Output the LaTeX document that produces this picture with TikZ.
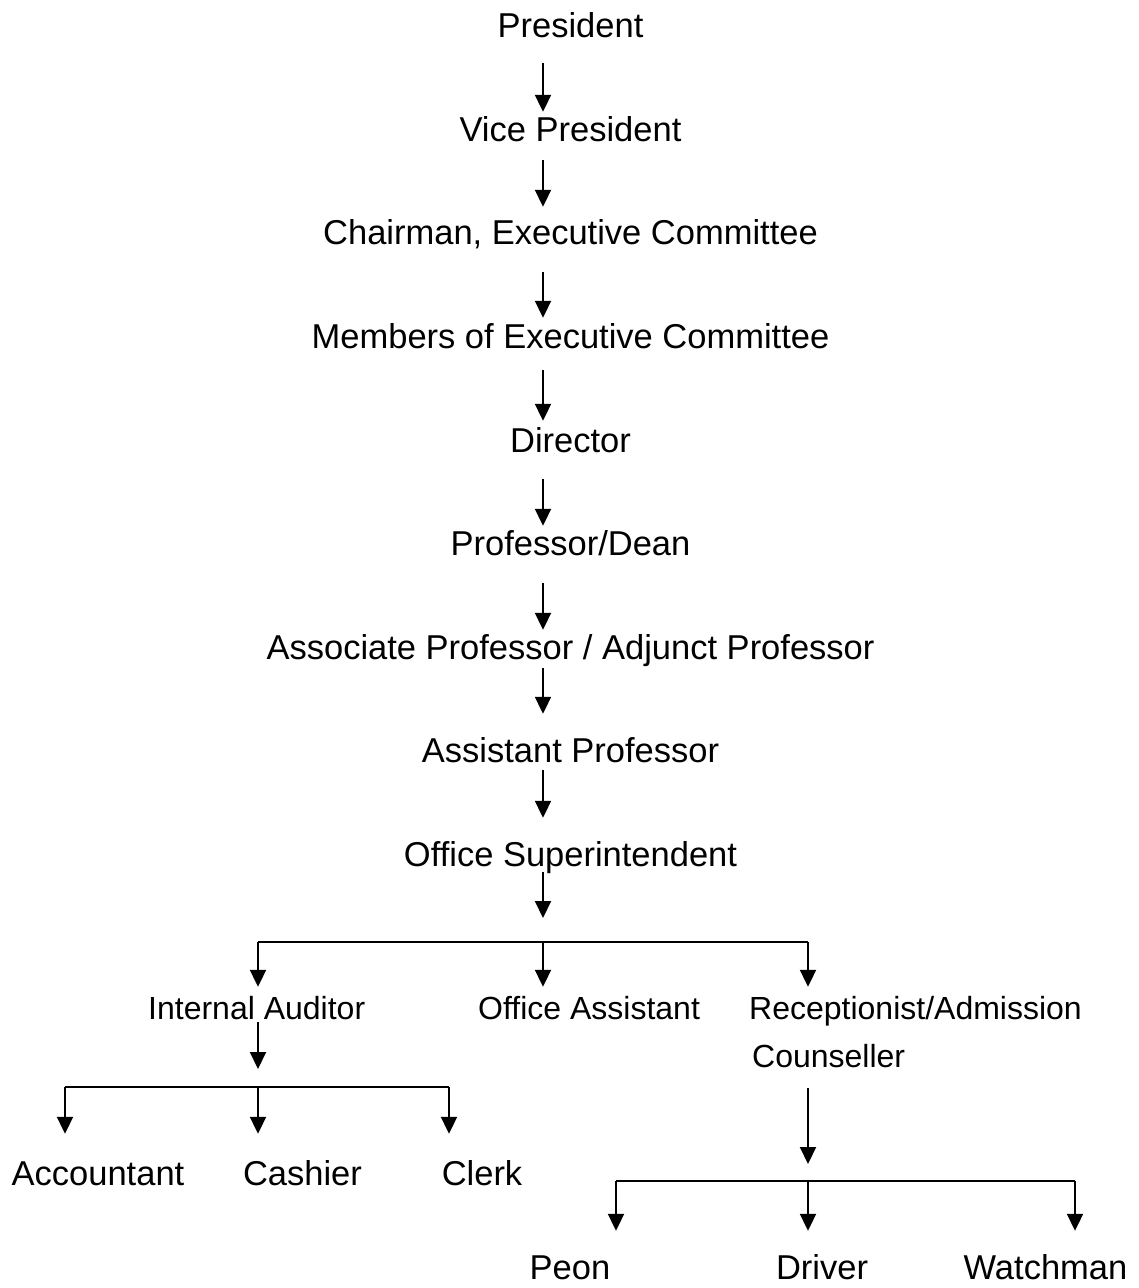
\documentclass[tikz,border=0pt]{standalone}
\usepackage{fontspec}
\setmainfont{Liberation Sans}
\usetikzlibrary{arrows.meta,positioning}

\tikzset{
	post/.style={anchor=base,inner sep=0pt,text height=24pt,text depth=0pt,font=\fontsize{34.5}{40}\selectfont},
	unit/.style={anchor=base west,inner sep=0pt,text height=23pt,text depth=0pt,font=\fontsize{32}{38}\selectfont},
	arr/.style={line width=2pt,-{Triangle[length=17pt,width=16pt]}},
	bar/.style={line width=2pt}
}

\begin{document}
\begin{tikzpicture}[x=1pt,y=-1pt]
		\useasboundingbox (0,0) rectangle (1139,1288);
		
		% Main chain
		\node[post] (pres)  at (570.5,37)  {President};
		\node[post] (vp)    at (570.5,141) {Vice President};
		\node[post] (chair) at (570.5,244) {Chairman, Executive Committee};
		\node[post] (memb)  at (570.5,348) {Members of Executive Committee};
		\node[post] (dir)   at (570.5,452) {Director};
		\node[post] (prof)  at (570.5,555) {Professor/Dean};
		\node[post] (assoc) at (570.5,659) {Associate Professor / Adjunct Professor};
		\node[post] (asst)  at (570.5,762) {Assistant Professor};
		\node[post] (os)    at (570.5,866) {Office Superintendent};
		
		% Second level
		\node[unit] (ia)  at (148,1019) {Internal Auditor};
		\node[unit] (oa)  at (478,1019) {Office Assistant};
		\node[unit] (rec) at (749,1019) {Receptionist/Admission};
		\node[unit] (cns) at (752,1067) {Counseller};
		
		% Third level
		\node[post] (acc)   at (98,1185)    {Accountant};
		\node[post] (cash)  at (302.5,1185) {Cashier};
		\node[post] (clerk) at (482,1185)   {Clerk};
		\node[post] (peon)  at (570,1279)   {Peon};
		\node[post] (drv)   at (822,1279)   {Driver};
		\node[post] (watch) at (1045.5,1279) {Watchman};
		
		% Forks
		\coordinate (spine) at (543,0);
		\coordinate (fork1) at (543,942);
		\coordinate (iaDrop) at (258,942);
		\coordinate (rcDrop) at (808,942);
		\coordinate (fork2) at (258,1087);
		\coordinate (accDrop) at (65,1087);
		\coordinate (clkDrop) at (449,1087);
		\coordinate (fork3) at (808,1181);
		\coordinate (peonDrop) at (616,1181);
		\coordinate (watchDrop) at (1075,1181);
		
		% Chain arrows
		\foreach \a/\b/\s/\e in {pres/vp/26/5, vp/chair/19/13, chair/memb/28/6, memb/dir/22/7, dir/prof/27/5, prof/assoc/28/5, assoc/asst/9/24, asst/os/8/24}
		\draw[arr,shorten <=\s pt,shorten >=\e pt] (\a.south -| spine) -- (\b.north -| spine);
		
		% Office Superintendent branch
		\draw[arr,shorten <=6pt,shorten >=24pt] (os.south -| spine) -- (fork1);
		\draw[bar] (iaDrop) -- (rcDrop);
		\draw[arr,shorten >=9pt] (iaDrop) -- (iaDrop |- ia.north);
		\draw[arr,shorten >=9pt] (fork1) -- (fork1 |- oa.north);
		\draw[arr,shorten >=9pt] (rcDrop) -- (rcDrop |- rec.north);
		
		% Internal Auditor branch
		\draw[arr,shorten <=3pt,shorten >=18pt] (ia.south -| fork2) -- (fork2);
		\draw[bar] (accDrop) -- (clkDrop);
		\draw[arr,shorten >=27pt] (accDrop) -- (accDrop |- acc.north);
		\draw[arr,shorten >=27pt] (fork2) -- (fork2 |- cash.north);
		\draw[arr,shorten >=27pt] (clkDrop) -- (clkDrop |- clerk.north);
		
		% Receptionist branch
		\draw[arr,shorten <=21pt,shorten >=17pt] (cns.south -| fork3) -- (fork3);
		\draw[bar] (peonDrop) -- (watchDrop);
		\draw[arr,shorten >=24pt] (peonDrop) -- (peonDrop |- peon.north);
		\draw[arr,shorten >=24pt] (fork3) -- (fork3 |- drv.north);
		\draw[arr,shorten >=24pt] (watchDrop) -- (watchDrop |- watch.north);
	\end{tikzpicture}
\end{document}
